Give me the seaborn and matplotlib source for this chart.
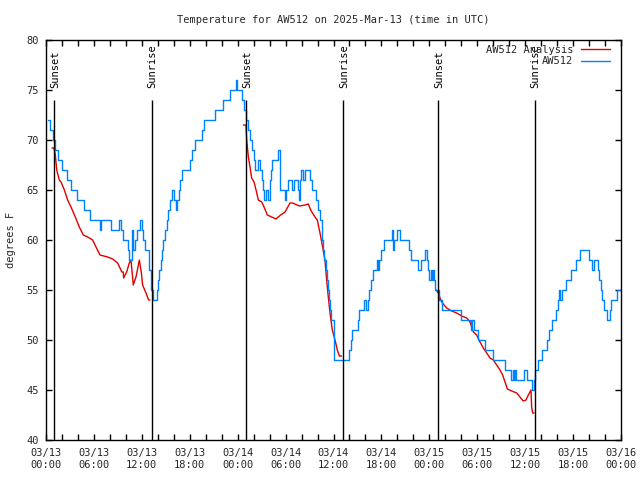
import numpy as np
import pandas as pd
import seaborn as sns
import matplotlib
matplotlib.use("Agg")
import matplotlib.pyplot as plt
from matplotlib.ticker import MultipleLocator

# hours since 2025-03-13 00:00 UTC

# AW512 observations (whole degrees, value holds until next time)
aw_hours = [0.25, 0.5, 0.85, 1.1, 1.5, 1.95, 2.6, 3.1, 3.9, 4.7, 5.5, 6.7, 6.9, 8.1, 9.1, 9.4,
            9.6, 10.3, 10.45, 10.8, 10.95, 11.15, 11.4, 11.8, 12.0, 12.2, 12.4, 12.9, 13.1,
            13.35, 13.85, 14.0, 14.2, 14.35, 14.5, 14.7, 14.85, 15.1, 15.3, 15.5, 15.75, 16.0,
            16.25, 16.4, 16.6, 16.8, 17.05, 18.05, 18.3, 18.6, 19.5, 19.75, 21.2, 22.2, 23.0,
            23.75, 23.9, 24.6, 24.85, 25.1, 25.3, 25.5, 25.8, 26.0, 26.2, 26.5, 26.85, 27.0,
            27.15, 27.3, 27.6, 27.8, 28.0, 28.1, 28.2, 28.35, 29.0, 29.3, 29.95, 30.1, 30.35,
            30.8, 31.0, 31.5, 31.7, 31.85, 31.95, 32.2, 32.4, 33.0, 33.25, 33.8, 34.1, 34.35,
            34.5, 34.6, 34.7, 34.85, 35.0, 35.15, 35.25, 35.4, 35.5, 35.65, 36.0, 37.9, 38.15,
            38.3, 39.1, 39.25, 39.8, 40.1, 40.3, 40.5, 40.7, 40.95, 41.4, 41.6, 41.7, 41.9,
            42.3, 43.3, 43.45, 43.6, 43.9, 44.3, 45.5, 45.65, 46.6, 46.9, 47.45, 47.7, 47.85,
            48.0, 48.15, 48.3, 48.45, 48.6, 48.75, 49.2, 49.6, 52.0, 53.2, 53.4, 53.6, 54.1,
            55.0, 56.0, 57.5, 58.2, 58.5, 58.6, 58.7, 58.8, 59.8, 60.2, 60.8, 61.1, 61.25,
            61.6, 62.15, 62.75, 62.95, 63.4, 63.9, 64.1, 64.25, 64.4, 64.65, 65.15, 65.75,
            66.4, 66.9, 67.95, 68.4, 68.65, 69.1, 69.3, 69.45, 69.6, 69.9, 70.25, 70.6, 70.75,
            71.5, 72.0]
aw_temps = [72, 71, 70, 69, 68, 67, 66, 65, 64, 63, 62, 61, 62, 61, 62, 61,
            60, 59, 58, 61, 59, 60, 61, 62, 61, 60, 59, 57, 55,
            54, 55, 56, 57, 58, 59, 60, 61, 62, 63, 64, 65, 64,
            63, 64, 65, 66, 67, 68, 69, 70, 71, 72, 73, 74, 75,
            76, 75, 74, 73, 72, 71, 70, 69, 68, 67, 68, 67, 66,
            65, 64, 65, 64, 65, 66, 67, 68, 69, 65, 64, 65, 66,
            65, 66, 65, 64, 66, 67, 66, 67, 66, 65, 64, 63, 62,
            61, 60, 59, 58, 57, 56, 55, 54, 53, 52, 48, 49, 50,
            51, 52, 53, 54, 53, 54, 55, 56, 57, 58, 57, 58, 59,
            60, 61, 59, 60, 61, 60, 59, 58, 57, 58, 59, 58, 57,
            56, 57, 56, 57, 56, 55, 54, 53, 52, 51, 52, 51, 50,
            49, 48, 47, 46, 47, 46, 47, 46, 47, 46, 45, 46, 47,
            48, 49, 50, 51, 52, 53, 54, 55, 54, 55, 56, 57,
            58, 59, 58, 57, 58, 57, 56, 55, 54, 53, 52, 53, 54,
            55, 55]

# AW512 Analysis, three overnight pieces
an1_hours = [0.75, 1.0, 1.05, 1.17, 1.34, 1.67, 1.88, 2.3, 2.71, 3.13, 3.67, 4.17, 4.67, 5.22,
             5.84, 6.26, 6.76, 7.72, 8.35, 8.97, 9.5, 9.68, 9.72, 10.1, 10.43, 10.64, 10.93,
             11.27, 11.69, 11.94, 12.1, 12.52, 12.85, 13.02]
an1_temps = [69.2, 69.2, 69.0, 68.5, 67.0, 66.0, 65.8, 65.0, 64.0, 63.3, 62.3, 61.3, 60.5, 60.3,
             60.0, 59.3, 58.5, 58.3, 58.1, 57.7, 56.8, 56.8, 56.2, 56.8, 57.7, 58.0, 55.5,
             56.3, 58.0, 56.7, 55.5, 54.7, 54.0, 54.0]
an2_hours = [24.71, 25.04, 25.13, 25.34, 25.55, 25.75, 26.05, 26.3, 26.59, 27.01, 27.3, 27.72,
             28.26, 28.8, 29.38, 29.93, 30.55, 30.89, 31.72, 32.43, 32.85, 33.14, 33.68, 33.97,
             34.31, 34.64, 34.93, 35.14, 35.35, 35.56, 35.85, 36.19, 36.48, 36.73, 37.02]
an2_temps = [71.5, 71.5, 70.0, 68.3, 67.3, 66.2, 65.8, 65.0, 64.0, 63.8, 63.3, 62.5,
             62.3, 62.1, 62.5, 62.8, 63.7, 63.7, 63.4, 63.5, 63.6, 63.0, 62.3, 62.0,
             60.7, 59.3, 58.0, 56.0, 54.3, 52.7, 51.0, 50.0, 49.0, 48.4, 48.4]
an3_hours = [48.84, 49.13, 49.34, 49.55, 49.84, 50.17, 50.8, 51.43, 52.05, 52.68, 53.1, 53.3,
             53.51, 53.93, 54.34, 54.76, 55.18, 55.6, 56.02, 56.43, 56.85, 57.18, 57.48, 57.77,
             58.31, 58.94, 59.35, 59.77, 60.1, 60.4, 60.73, 60.81, 60.94, 61.11]
an3_temps = [55.0, 54.7, 54.2, 53.8, 53.5, 53.2, 52.9, 52.7, 52.4, 52.2, 51.8, 51.3,
             50.8, 50.5, 49.8, 49.2, 48.7, 48.2, 48.0, 47.5, 47.0, 46.5, 45.8, 45.1,
             44.9, 44.7, 44.3, 43.9, 44.0, 44.5, 45.0, 43.3, 42.7, 42.7]

sun_hours = [1.05, 13.25, 25.07, 37.22, 49.08, 61.17]
sun_labels = ["Sunset", "Sunrise", "Sunset", "Sunrise", "Sunset", "Sunrise"]

tick_hours = [0, 6, 12, 18, 24, 30, 36, 42, 48, 54, 60, 66, 72]
tick_labels = ["03/13\n00:00", "03/13\n06:00", "03/13\n12:00", "03/13\n18:00",
               "03/14\n00:00", "03/14\n06:00", "03/14\n12:00", "03/14\n18:00",
               "03/15\n00:00", "03/15\n06:00", "03/15\n12:00", "03/15\n18:00",
               "03/16\n00:00"]

RED = "#e00000"
BLUE = "#0080ff"


def main():
    sns.set_style("ticks")
    plt.rcParams["font.family"] = ["DejaVu Sans Mono"]
    plt.rcParams["font.size"] = 7.5

    fig = plt.figure(figsize=(6.4, 4.8), dpi=100)
    ax = fig.add_axes([46 / 640, 40 / 480, 575 / 640, 400 / 480])

    # analysis pieces, only the first gets a legend label
    pieces = [(an1_hours, an1_temps), (an2_hours, an2_temps), (an3_hours, an3_temps)]
    for i, (h, t) in enumerate(pieces):
        sns.lineplot(x=h, y=t, ax=ax, color=RED, linewidth=1.0,
                     label="AW512 Analysis" if i == 0 else None)

    obs = pd.DataFrame({"hour": aw_hours, "temp": aw_temps})
    sns.lineplot(data=obs, x="hour", y="temp", ax=ax, color=BLUE, linewidth=1.0,
                 drawstyle="steps-post", label="AW512")

    # sunrise / sunset markers
    ax.vlines(sun_hours, 40, 74, color="black", linewidth=1.0)
    for h, lab in zip(sun_hours, sun_labels):
        ax.text(h + 0.1, 75.2, lab, rotation=90, ha="center", va="bottom", color="black")

    ax.set_xlim(0, 72)
    ax.set_ylim(40, 80)
    ax.set_xticks(tick_hours)
    ax.set_xticklabels(tick_labels)
    ax.xaxis.set_minor_locator(MultipleLocator(2))
    ax.set_yticks(range(40, 81, 5))
    ax.tick_params(which="both", direction="in", top=True, right=True,
                   length=4, width=1, color="black")
    ax.tick_params(axis="x", pad=6)
    ax.tick_params(axis="y", pad=5)
    for s in ax.spines.values():
        s.set_color("black")
        s.set_linewidth(1)

    ax.set_xlabel("")
    ax.set_ylabel("degrees F")
    ax.yaxis.set_label_coords(-0.052, 0.5)

    ax.text(0.5, 1.049, "Temperature for AW512 on 2025-Mar-13 (time in UTC)",
            transform=ax.transAxes, ha="center", va="center")

    ax.legend(loc="upper right", bbox_to_anchor=(0.993, 1.006), frameon=False,
              markerfirst=False, handlelength=2.8, handletextpad=0.7,
              labelspacing=0.15, borderpad=0.2, borderaxespad=0.5)

    fig.savefig("out.png", dpi=100)


if __name__ == "__main__":
    main()
